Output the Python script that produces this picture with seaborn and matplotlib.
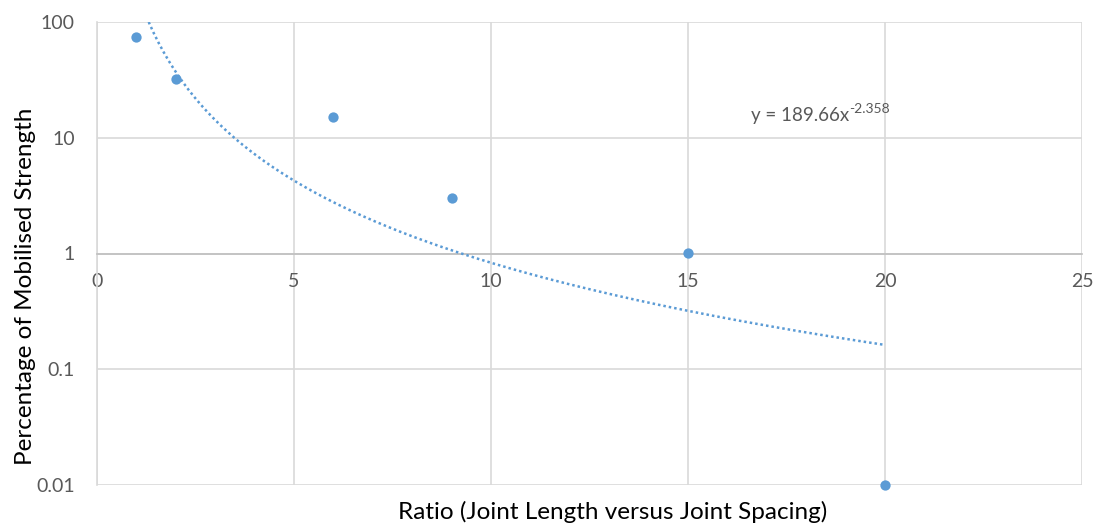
import numpy as np
import pandas as pd
import matplotlib
matplotlib.use("Agg")
import matplotlib.pyplot as plt
import seaborn as sns

# Data
ratio = [1, 2, 6, 9, 15, 20]
strength = [74, 32, 15, 3.0, 1.02, 0.01]
trend_a = 189.66
trend_b = -2.358
x_ticks = [0, 5, 10, 15, 20, 25]
y_ticks = [0.01, 0.1, 1, 10, 100]
y_tick_labels = ["0.01", "0.1", "1", "10", "100"]

sns.set_theme(style="white")
plt.rcParams['font.family'] = ['Lato', 'DejaVu Sans']
plt.rcParams['axes.unicode_minus'] = False

blue = "#5b9bd5"
grid_c = "#d9d9d9"
tick_c = "#595959"

fig = plt.figure(figsize=(10.94, 5.28), dpi=100)
ax = fig.add_axes([97/1094, 1-485/528, (1082-97)/1094, (485-22)/528])

# Trendline (power fit as given by the equation)
x_start = (100/trend_a) ** (1/trend_b)
xt = np.linspace(x_start, 20, 300)
trend_df = pd.DataFrame({"x": xt, "y": trend_a * xt ** trend_b})
sns.lineplot(data=trend_df, x="x", y="y", ax=ax, color=blue, linestyle=(0, (1, 1.2)),
             linewidth=1.8, zorder=3)

df = pd.DataFrame({"ratio": ratio, "strength": strength})
sns.scatterplot(data=df, x="ratio", y="strength", ax=ax, color=blue, s=55,
                edgecolor=blue, linewidth=0, zorder=4, clip_on=False)

ax.set_yscale("log")
ax.set_xlim(0, 25)
ax.set_ylim(0.01, 100)
ax.set_xticks(x_ticks)
ax.set_xticklabels([str(t) for t in x_ticks])
ax.set_yticks(y_ticks)
ax.set_yticklabels(y_tick_labels)
ax.yaxis.set_minor_locator(matplotlib.ticker.NullLocator())

ax.grid(True, color=grid_c, linewidth=1.2)
ax.set_axisbelow(True)
for s in ["top", "right"]:
    ax.spines[s].set_visible(False)
ax.spines["left"].set_color(grid_c)
ax.spines["left"].set_linewidth(1.2)
ax.spines["bottom"].set_color("#bfbfbf")
ax.spines["bottom"].set_linewidth(1.2)
ax.spines["bottom"].set_position(("data", 1))

ax.tick_params(axis="both", length=0, labelsize=14, colors=tick_c)
ax.tick_params(axis="x", pad=14)
ax.tick_params(axis="y", pad=16)

ax.set_xlabel("Ratio (Joint Length versus Joint Spacing)", fontsize=17.5, color="black")
ax.xaxis.set_label_coords(0.523, -0.035)
ax.set_ylabel("Percentage of Mobilised Strength", fontsize=17.5, color="black")
ax.yaxis.set_label_coords(-0.062, 0.43)

eq = ax.text(16.6, 15.5, f"y = {trend_a}x", fontsize=13.5, color=tick_c,
             va="center", ha="left")
ax.annotate(f"{trend_b}", xy=(1.0, 0.55), xycoords=eq, fontsize=10, color=tick_c,
            va="bottom", ha="left")

fig.savefig("out.png", dpi=100)
